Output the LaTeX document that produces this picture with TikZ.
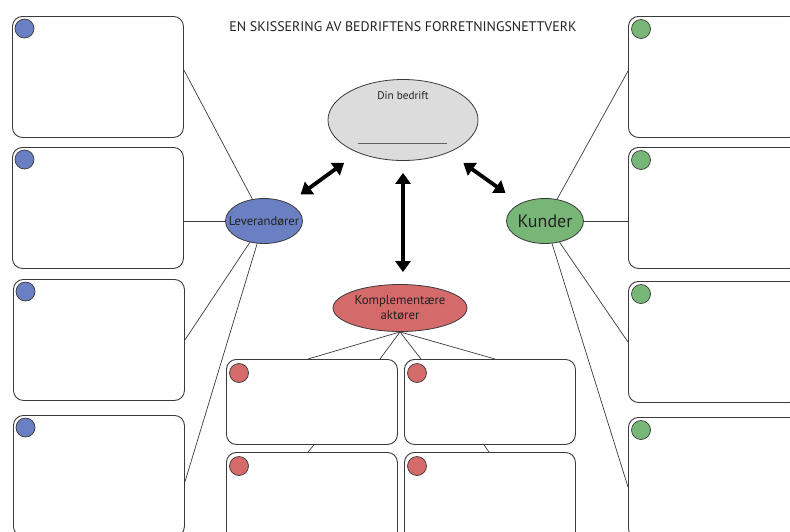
\documentclass[tikz,border=0pt]{standalone}
\usepackage{fontspec}
\setmainfont{PT Sans}
\usetikzlibrary{shapes.geometric,arrows.meta,calc}
\definecolor{levblue}{HTML}{6A80C2}
\definecolor{kundgreen}{HTML}{78B677}
\definecolor{kompred}{HTML}{D46A6A}
\definecolor{firmgray}{HTML}{DCDCDC}
\definecolor{edge}{HTML}{3A3A3A}
\definecolor{ink}{HTML}{222222}

\begin{document}
\begin{tikzpicture}[x=1pt,y=-1pt,
  card/.style={draw=edge, line width=0.9pt, rounded corners=10pt, fill=white,
    minimum width=171pt, minimum height=121pt, anchor=north west, inner sep=0pt},
  lowcard/.style={card, minimum height=85pt},
  dot/.style={circle, draw=edge, line width=0.7pt, minimum size=19pt, inner sep=0pt},
  hub/.style={ellipse, draw=edge, line width=0.8pt, inner sep=0pt, text=ink},
  link/.style={draw=edge, line width=0.7pt},
  bigarrow/.style={{Triangle[width=15pt,length=11pt]}-{Triangle[width=15pt,length=11pt]},
    line width=3.8pt, black},
  every node/.style={text=ink}
]
\useasboundingbox (0,0) rectangle (790,531);
\clip (0,0) rectangle (790,531);

% title
\node[font=\fontsize{13.9}{16}\selectfont] (title) at (403,27)
  {EN SKISSERING AV BEDRIFTENS FORRETNINGSNETTVERK};

% supplier cards (left column)
\node[card] (L1) at (12,16) {};
\node[card] (L2) at (12,147) {};
\node[card] (L3) at (13,279) {};
\node[card] (L4) at (13,415) {};

% customer cards (right column)
\node[card] (R1) at (628,16) {};
\node[card] (R2) at (628,147) {};
\node[card] (R3) at (628,281) {};
\node[card] (R4) at (628,417) {};

% complementary cards (bottom middle)
\node[lowcard] (B1) at (226,359) {};
\node[lowcard] (B2) at (404,359) {};
\node[card] (B3) at (226,452) {};
\node[card] (B4) at (404,452) {};

% coloured markers in the card corners
\foreach \c in {L1,L2,L3,L4}
  \node[dot, fill=levblue] (dot\c) at ($(\c.north west)+(12.5,12.5)$) {};
\foreach \c in {R1,R2,R3,R4}
  \node[dot, fill=kundgreen] (dot\c) at ($(\c.north west)+(13,13)$) {};
\foreach \c in {B1,B2,B3,B4}
  \node[dot, fill=kompred] (dot\c) at ($(\c.north west)+(13,14)$) {};

% hubs
\node[hub, fill=firmgray, minimum width=150pt, minimum height=81pt] (Din) at (403,120) {};
\node[font=\fontsize{11.2}{13}\selectfont] (DinLabel) at ($(Din.center)+(0,-24)$) {Din bedrift};
\draw[edge!80, line width=0.6pt] ($(Din.center)+(-45,23)$) -- ($(Din.center)+(44,23)$);

\node[hub, fill=levblue, minimum width=77pt, minimum height=45pt,
  font=\fontsize{12.6}{14}\selectfont] (Lev) at (264,221) {\makebox[0pt]{Leverandører}};
\node[hub, fill=kundgreen, minimum width=77pt, minimum height=45pt,
  font=\fontsize{18}{20}\selectfont] (Kun) at (545,221) {\makebox[0pt]{Kunder}};
\node[hub, fill=kompred, minimum width=134pt, minimum height=47pt, align=center,
  font=\fontsize{12.8}{15}\selectfont] (Komp) at (400,308)
  {\makebox[0pt]{Komplementære}\\\makebox[0pt]{aktører}};

% links from suppliers
\draw[link] (Lev) -- ($(L1.north east)+(0,54)$);
\draw[link] (Lev.west) -- (Lev.west -| L2.east);
\draw[link] (Lev) -- ($(L3.north east)+(0,61)$);
\draw[link] (Lev) -- ($(L4.north east)+(0,67)$);

% links from customers
\draw[link] (Kun) -- ($(R1.north west)+(0,55)$);
\draw[link] (Kun.east) -- (Kun.east -| R2.west);
\draw[link] (Kun) -- ($(R3.north west)+(0,61)$);
\draw[link] (Kun) -- ($(R4.north west)+(0,70)$);

% links from complementary actors
\draw[link] (Komp.south) -- ($(B1.north west)+(82,0)$);
\draw[link] (Komp.south) -- ($(B1.north west)+(154,0)$);
\draw[link] (Komp.south) -- ($(B2.north west)+(17,0)$);
\draw[link] (Komp.south) -- ($(B2.north west)+(91,0)$);
\draw[link] ($(B1.south west)+(88,0)$) -- ($(B3.north west)+(82,0)$);
\draw[link] ($(B2.south west)+(80,0)$) -- ($(B4.north west)+(85,0)$);

% two-way relations to the company
\draw[bigarrow, shorten <=17pt, shorten >=15pt] (Din) -- (Lev);
\draw[bigarrow, shorten <=12pt, shorten >=12pt] (Din.south) -- (Din.south |- Komp.north);
\draw[bigarrow, shorten <=18pt, shorten >=18pt] (Din) -- (Kun);
\end{tikzpicture}
\end{document}
